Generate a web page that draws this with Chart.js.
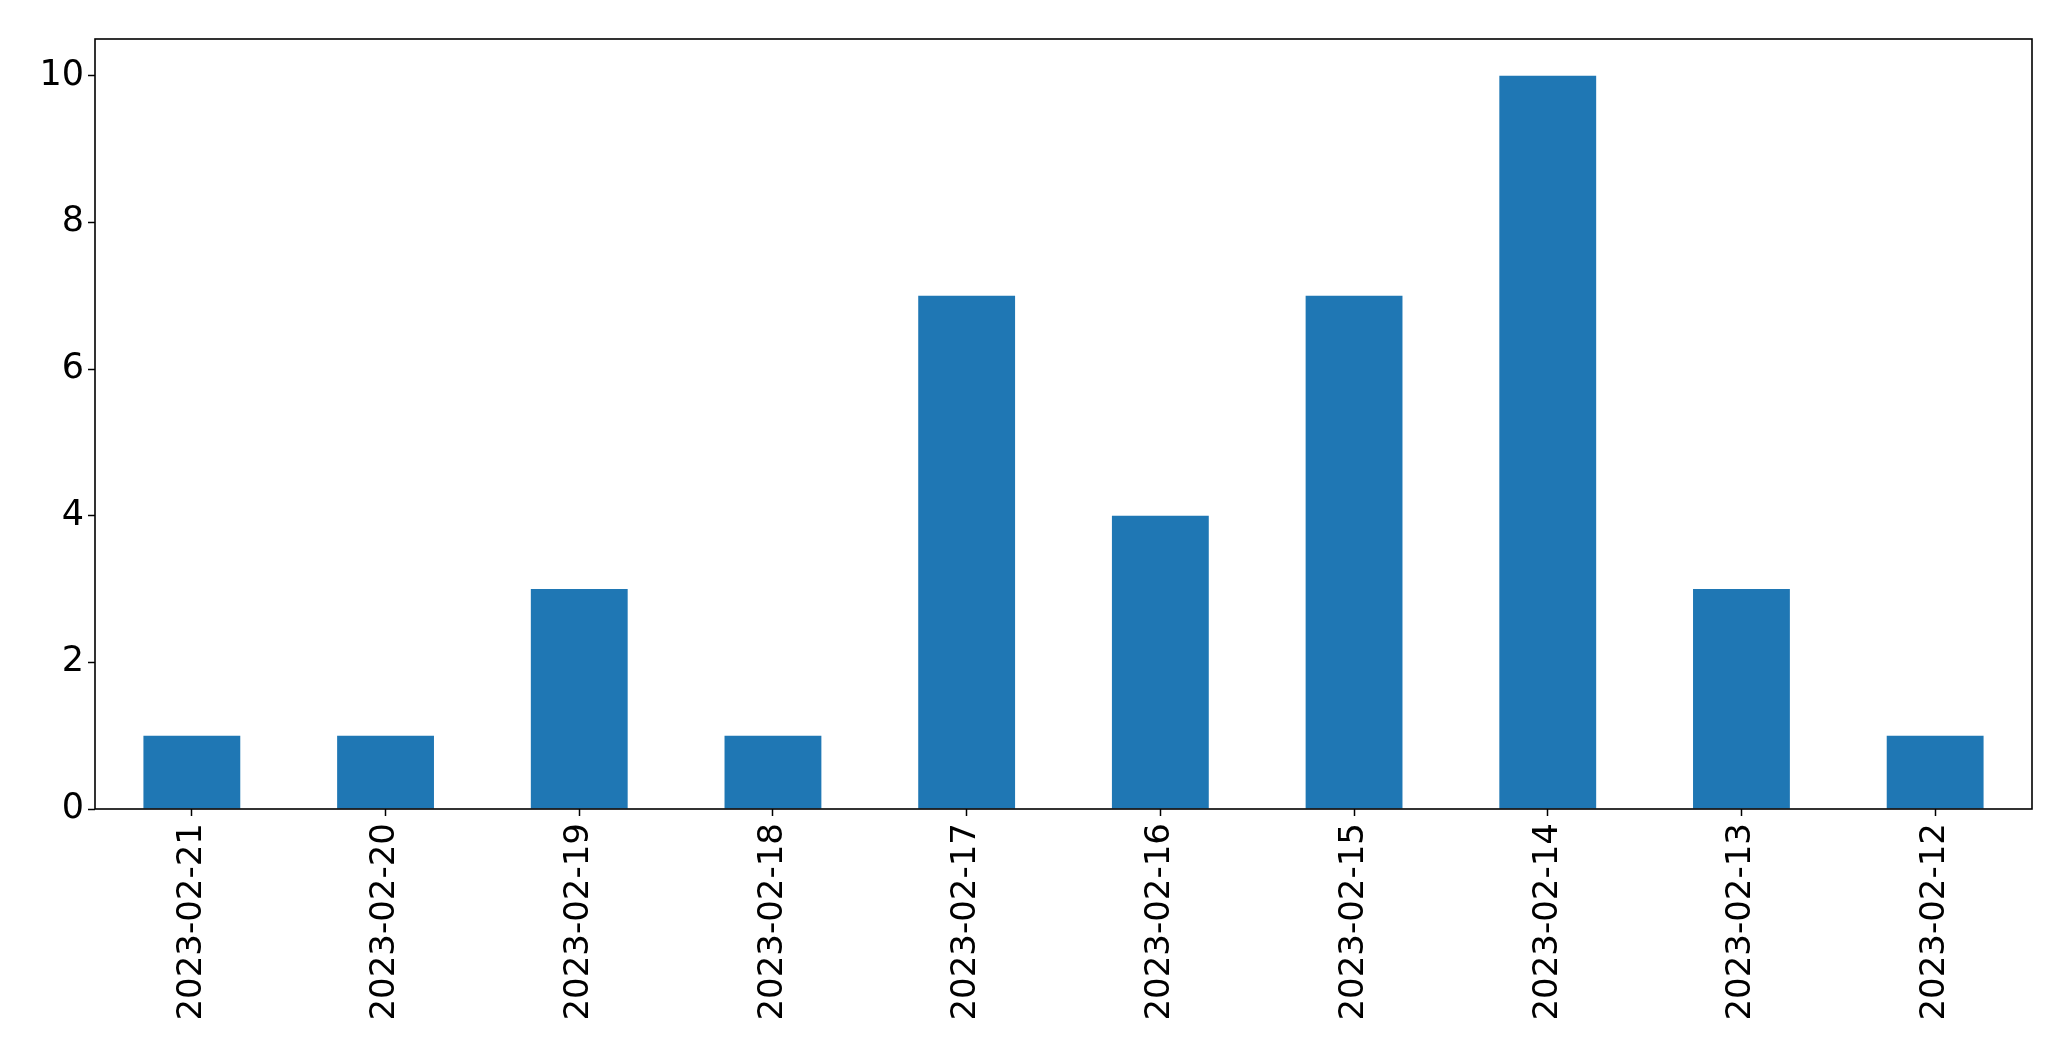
<!DOCTYPE html>
<html>
<head>
<meta charset="utf-8">
<script src="https://cdn.jsdelivr.net/npm/chart.js@4"></script>
<style>
  html, body { margin: 0; padding: 0; background: #fff; }
  #wrap { width: 2071px; height: 1061px; }
</style>
</head>
<body>
<div id="wrap"><canvas id="chart" width="2071" height="1061"></canvas></div>
<script>
// data
const dates = ["2023-02-21", "2023-02-20", "2023-02-19", "2023-02-18", "2023-02-17",
               "2023-02-16", "2023-02-15", "2023-02-14", "2023-02-13", "2023-02-12"];
const counts = [1, 1, 3, 1, 7, 4, 7, 10, 3, 1];
const yTicks = [0, 2, 4, 6, 8, 10];

const FONT = "DejaVu Sans";

// box around the plot area, like matplotlib spines
const frame = {
  id: "frame",
  afterDraw(chart) {
    const a = chart.chartArea;
    const ctx = chart.ctx;
    ctx.save();
    ctx.strokeStyle = "#000";
    ctx.lineWidth = 1.6;
    ctx.strokeRect(a.left, a.top, a.right - a.left, a.bottom - a.top);
    ctx.restore();
  }
};

new Chart(document.getElementById("chart").getContext("2d"), {
  type: "bar",
  data: {
    labels: dates,
    datasets: [{
      data: counts,
      backgroundColor: "#1f77b4",
      borderWidth: 0,
      categoryPercentage: 1.0,
      barPercentage: 0.5
    }]
  },
  options: {
    responsive: false,
    animation: false,
    layout: { padding: { left: 0, top: 39, right: 39, bottom: 0 } },
    plugins: { legend: { display: false }, tooltip: { enabled: false } },
    scales: {
      x: {
        offset: true,
        grid: { offset: false, drawOnChartArea: false, drawTicks: true, tickLength: 7, tickColor: "#000", tickWidth: 1.5 },
        border: { display: false },
        ticks: {
          color: "#000", font: { family: FONT, size: 34 },
          maxRotation: 90, minRotation: 90, padding: 7, autoSkip: false
        },
        afterFit(scale) { scale.height = 1061 - 809; }
      },
      y: {
        min: 0, max: 10.5,
        grid: { drawOnChartArea: false, drawTicks: true, tickLength: 7, tickColor: "#000", tickWidth: 1.5 },
        border: { display: false },
        afterBuildTicks(scale) { scale.ticks = yTicks.map(v => ({ value: v })); },
        ticks: { color: "#000", font: { family: FONT, size: 35 }, padding: 4 },
        afterFit(scale) { scale.width = 95; }
      }
    }
  },
  plugins: [frame]
});
</script>
</body>
</html>
